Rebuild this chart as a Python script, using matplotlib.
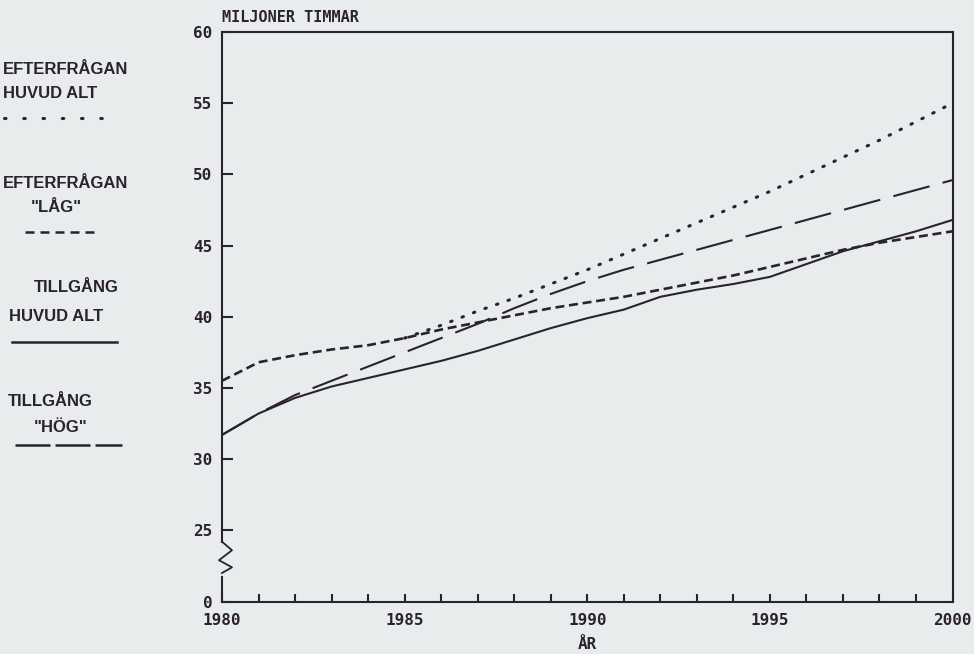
import matplotlib
matplotlib.use("Agg")
import matplotlib.pyplot as plt
import numpy as np
from matplotlib.lines import Line2D

# years on the x axis
years = list(range(1980, 2001))

# million hours (nan = not drawn)
nan = float("nan")
efterfragan_huvud = [nan, nan, nan, nan, nan, 38.5, 39.4, 40.4, 41.3, 42.3, 43.3,
                     44.4, 45.5, 46.6, 47.7, 48.8, 50.0, 51.2, 52.4, 53.7, 55.0]
efterfragan_lag = [35.5, 36.8, 37.3, 37.7, 38.0, 38.5, 39.1, 39.6, 40.1, 40.6, 41.0,
                   41.4, 41.9, 42.4, 42.9, 43.5, 44.1, 44.7, 45.2, 45.6, 46.0]
tillgang_huvud = [31.7, 33.2, 34.3, 35.1, 35.7, 36.3, 36.9, 37.6, 38.4, 39.2, 39.9,
                  40.5, 41.4, 41.9, 42.3, 42.8, 43.7, 44.6, 45.3, 46.0, 46.8]
tillgang_hog = [31.7, 33.2, 34.5, 35.5, 36.5, 37.5, 38.5, 39.5, 40.6, 41.6, 42.5,
                43.3, 44.0, 44.7, 45.4, 46.1, 46.8, 47.5, 48.2, 48.9, 49.6]

# broken y axis: bottom label "0" sits where 20 would be
ytick_pos = [20, 25, 30, 35, 40, 45, 50, 55, 60]
ytick_labels = ["0", "25", "30", "35", "40", "45", "50", "55", "60"]
xtick_labels = {1980: "1980", 1985: "1985", 1990: "1990", 1995: "1995", 2000: "2000"}

INK = "#2b2230"
BG = "#e9ecec"
MONO = "DejaVu Sans Mono"
SANS = ["Liberation Sans", "DejaVu Sans"]

W, H = 974, 654
fig = plt.figure(figsize=(W / 100, H / 100), dpi=100, facecolor=BG)
ax = fig.add_axes([222 / W, 1 - 601.5 / H, 730.5 / W, 569.5 / H])
ax.set_facecolor(BG)

ax.plot(years, efterfragan_huvud, color=INK, lw=2.2, linestyle=(0, (0.5, 3.5)),
        dash_capstyle="round")
ax.plot(years, efterfragan_lag, color=INK, lw=1.9, linestyle=(0, (3.4, 1.8)))
ax.plot(years, tillgang_huvud, color=INK, lw=1.5)
ax.plot(years, tillgang_hog, color=INK, lw=1.5, linestyle=(0, (18, 6.5)))

ax.set_xlim(1980, 2000)
ax.set_ylim(20, 60)
ax.set_yticks(ytick_pos)
ax.set_yticklabels(ytick_labels)
ax.set_xticks(years)
ax.set_xticklabels([xtick_labels.get(y, "") for y in years])
ax.tick_params(axis="y", direction="in", length=8, width=1.5, color=INK, pad=7,
               labelsize=11.5, labelcolor=INK)
ax.tick_params(axis="x", direction="in", length=6, width=1.5, color=INK, pad=8,
               labelsize=11.5, labelcolor=INK)
for lab in ax.get_xticklabels() + ax.get_yticklabels():
    lab.set_family(MONO)
    lab.set_weight("bold")

for side in ["top", "right", "bottom"]:
    ax.spines[side].set_color(INK)
    ax.spines[side].set_linewidth(1.5)
ax.spines["left"].set_visible(False)

# left spine drawn by hand with the zigzag break
ytr = ax.get_yaxis_transform()
zx = 10 / 730.5
ax.add_line(Line2D([0, 0], [60, 24.2], transform=ytr, color=INK, lw=1.5, clip_on=False))
ax.add_line(Line2D([0, zx, -0.3 * zx, zx, 0], [24.2, 23.6, 22.9, 22.4, 22.0],
                   transform=ytr, color=INK, lw=1.3, clip_on=False))
ax.add_line(Line2D([0, 0], [21.7, 20], transform=ytr, color=INK, lw=1.5, clip_on=False))

ax.text(0, 1.012, "MILJONER TIMMAR", transform=ax.transAxes, ha="left", va="bottom",
        family=MONO, weight="bold", fontsize=11, color=INK)
ax.set_xlabel("ÅR", family=MONO, weight="bold", fontsize=11.5, color=INK, labelpad=7)


# legend block on the left, in pixel positions
def px_text(x, y, s, ha="left"):
    fig.text(x / W, 1 - y / H, s, ha=ha, va="center", family=SANS, weight="bold",
             fontsize=12, color=INK)


def px_line(x0, x1, y, **kw):
    fig.add_artist(Line2D([x0 / W, x1 / W], [1 - y / H, 1 - y / H],
                          transform=fig.transFigure, color=INK, **kw))


px_text(3, 70, "EFTERFRÅGAN")
px_text(3, 93, "HUVUD ALT")
px_line(4, 104, 118, lw=2.2, linestyle=(0, (0.5, 5.8)), dash_capstyle="round")

px_text(3, 183, "EFTERFRÅGAN")
px_text(56, 207, '"LÅG"', ha="center")
px_line(25, 98, 232, lw=1.8, linestyle=(0, (3.6, 2.4)))

px_text(76, 288, "TILLGÅNG", ha="center")
px_text(56, 316, "HUVUD ALT", ha="center")
px_line(12, 117, 342, lw=1.8)

px_text(50, 401, "TILLGÅNG", ha="center")
px_text(61, 427, '"HÖG"', ha="center")
px_line(15, 122, 445, lw=1.8, linestyle=(0, (14, 2)))

fig.savefig("out.png", dpi=100, facecolor=BG)
